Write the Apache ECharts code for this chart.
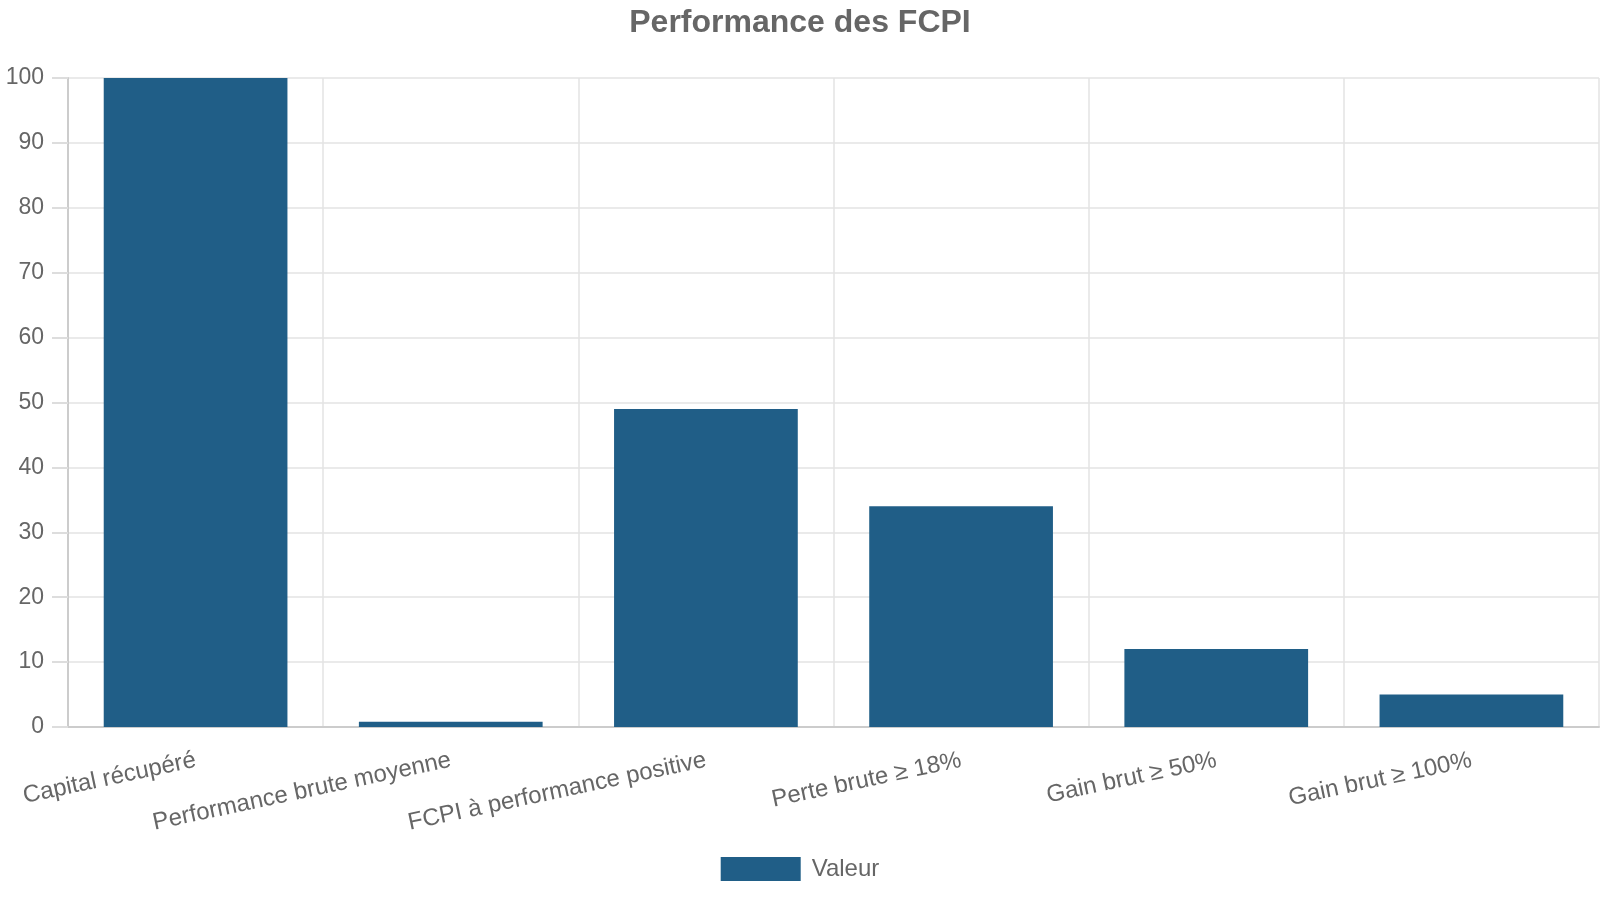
<!DOCTYPE html>
<html>
<head>
<meta charset="utf-8">
<script src="https://cdn.jsdelivr.net/npm/echarts@6/dist/echarts.min.js"></script>
<style>
  html, body { margin: 0; padding: 0; background: #fff; }
  #chart { width: 1600px; height: 900px; }
</style>
</head>
<body>
<div id="chart"></div>
<script>
const categories = [
  'Capital récupéré',
  'Performance brute moyenne',
  'FCPI à performance positive',
  'Perte brute ≥ 18%',
  'Gain brut ≥ 50%',
  'Gain brut ≥ 100%'
]
const valeurs = [100, 0.8, 49, 34, 12, 5]

const chart = echarts.init(document.getElementById('chart'))
chart.setOption({
  textStyle: { fontFamily: 'Liberation Sans, Arial, sans-serif' },
  title: {
    text: 'Performance des FCPI',
    left: 'center',
    top: 2,
    textStyle: { fontSize: 32, fontWeight: 'bold', color: '#666' }
  },
  legend: {
    bottom: 14,
    left: 'center',
    icon: 'rect',
    itemWidth: 80,
    itemHeight: 24,
    itemGap: 10,
    textStyle: { fontSize: 24, color: '#666', padding: [0, 0, 0, 6] }
  },
  grid: { left: 68, right: 1, top: 78, bottom: 173 },
  xAxis: {
    type: 'category',
    data: categories,
    axisLine: { lineStyle: { color: '#ccc', width: 2 } },
    axisTick: { length: 16, lineStyle: { color: '#ddd', width: 2 } },
    splitLine: { show: true, lineStyle: { color: '#e3e3e3', width: 1.5 } },
    axisLabel: { rotate: 12, fontSize: 24, color: '#666', margin: 33, interval: 0 }
  },
  yAxis: {
    type: 'value',
    min: 0,
    max: 100,
    interval: 10,
    axisLine: { show: true, lineStyle: { color: '#ccc', width: 2 } },
    axisTick: { show: true, length: 16, lineStyle: { color: '#ddd', width: 2 } },
    splitLine: { lineStyle: { color: '#e3e3e3', width: 1.5 } },
    axisLabel: { fontSize: 23, color: '#666', margin: 24 }
  },
  series: [
    {
      name: 'Valeur',
      type: 'bar',
      data: valeurs,
      barCategoryGap: '28%',
      itemStyle: { color: '#205e87' }
    }
  ]
})
</script>
</body>
</html>
